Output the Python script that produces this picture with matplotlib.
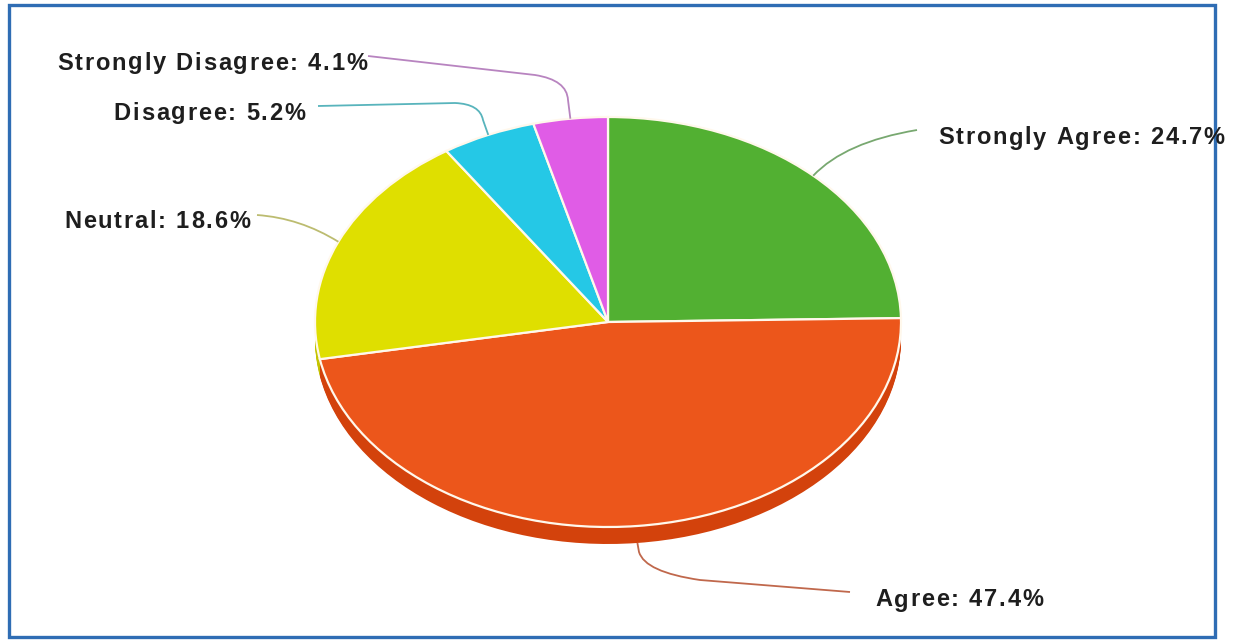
import numpy as np
import matplotlib.pyplot as plt
from matplotlib.patches import Rectangle, PathPatch
from matplotlib.path import Path
from matplotlib.transforms import Affine2D
from matplotlib.font_manager import FontProperties
from matplotlib.textpath import text_to_path

labels = ["Strongly Agree", "Agree", "Neutral", "Disagree", "Strongly Disagree"]
shares = [24.7, 47.4, 18.6, 5.2, 4.1]
colors = ["#52b032", "#ec561b", "#dfdf00", "#25c8e6", "#e05ce6"]
side_colors = ["#3f9426", "#d3420c", "#c4c400", "#1ea8c4", "#c044c8"]
line_colors = ["#78a870", "#c0684c", "#bcbc70", "#58b4bc", "#b884c0"]

W, H = 1243, 640
cx, cy = 608, 322
rx, ry = 293, 205
depth = 17

fig = plt.figure(figsize=(W / 100, H / 100), dpi=100)
ax = fig.add_axes([0, 0, 1, 1])

# extruded side of the pie, drawn as stacked copies below the top
for d in range(depth, 0, -1):
    side, _ = ax.pie(shares, startangle=90, counterclock=False, colors=side_colors,
                     wedgeprops=dict(linewidth=0))
    tr = Affine2D().scale(rx, -ry).translate(cx, cy + d) + ax.transData
    for w in side:
        w.set_transform(tr)

top, _ = ax.pie(shares, startangle=90, counterclock=False, colors=colors,
                wedgeprops=dict(edgecolor="#fff8ec", linewidth=1.6))
tr = Affine2D().scale(rx, -ry).translate(cx, cy) + ax.transData
for w in top:
    w.set_transform(tr)

ax.set_aspect("auto")
ax.set_xlim(0, W)
ax.set_ylim(H, 0)
ax.axis("off")


def mid_point(i, extra=0):
    start = 90 - sum(shares[:i]) * 3.6
    ang = np.radians(start - shares[i] * 1.8)
    return cx + rx * np.cos(ang), cy - ry * np.sin(ang) + extra


# leader lines: start at slice middle, then a hand-placed route to the label
routes = {
    0: ([(845, 142), (917, 130)], [Path.CURVE3, Path.CURVE3]),
    1: ([(639, 552), (645, 572), (700, 580), (850, 592)],
        [Path.LINETO, Path.CURVE3, Path.CURVE3, Path.LINETO]),
    2: ([(300, 218), (257, 215)], [Path.CURVE3, Path.CURVE3]),
    3: ([(483, 120), (480, 104), (455, 103), (318, 106)],
        [Path.LINETO, Path.CURVE3, Path.CURVE3, Path.LINETO]),
    4: ([(568, 100), (567, 80), (535, 75), (368, 56)],
        [Path.LINETO, Path.CURVE3, Path.CURVE3, Path.LINETO]),
}
for i, (pts, codes) in routes.items():
    start = mid_point(i, depth if i == 1 else 0)
    path = Path([start] + pts, [Path.MOVETO] + codes)
    ax.add_patch(PathPatch(path, facecolor="none", edgecolor=line_colors[i], lw=1.3))

# labels are letter-spaced, so place them one character at a time
prop = FontProperties(family="Liberation Sans", weight="bold", size=17)
track = 1.8


def char_w(ch):
    w, _, _ = text_to_path.get_text_width_height_descent(ch, prop, ismath=False)
    return w * 100 / 72


def tracked_text(x, y, s, ha):
    widths = [char_w(c) for c in s]
    total = sum(widths) + track * (len(s) - 1)
    if ha == "right":
        x -= total
    for c, w in zip(s, widths):
        ax.text(x, y, c, ha="left", va="center", fontproperties=prop, color="#1e1e1e")
        x += w + track


text_pos = [(938, 138, "left"), (875, 600, "left"), (250, 222, "right"),
            (305, 113, "right"), (367, 63, "right")]
for (x, y, ha), lab, s in zip(text_pos, labels, shares):
    tracked_text(x, y, f"{lab}: {s}%", ha)

# blue frame around the chart
ax.add_patch(Rectangle((9, 5), 1206, 632, fill=False, edgecolor="#2f6db4", lw=2.4))

fig.savefig("out.png", dpi=100)
